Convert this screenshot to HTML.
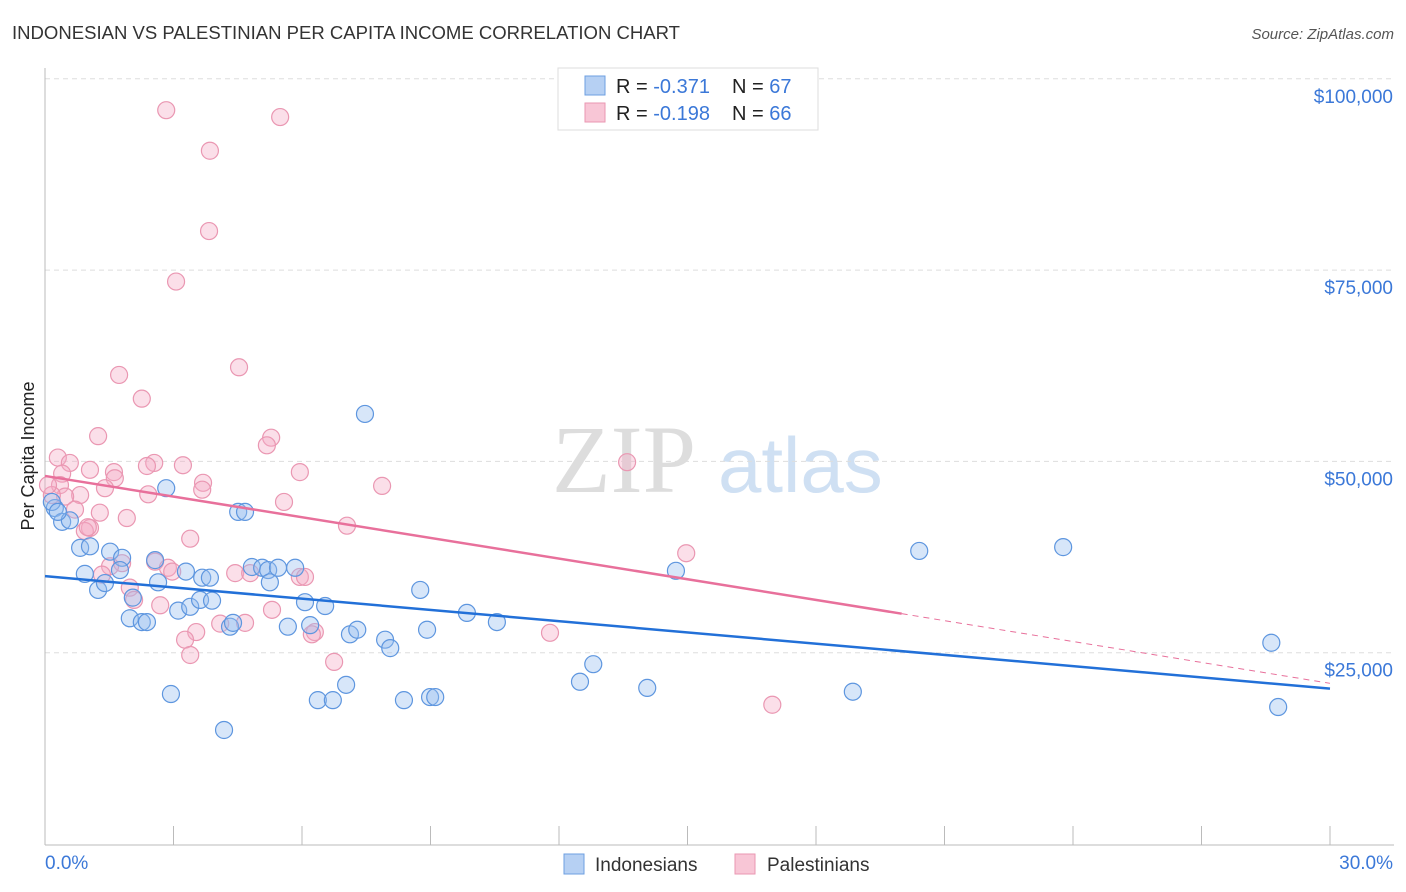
<!DOCTYPE html>
<html><head><meta charset="utf-8"><style>
body{margin:0;background:#fff;font-family:"Liberation Sans",sans-serif}
svg{display:block}
</style></head><body>
<svg id="chart" width="1406" height="892" viewBox="0 0 1406 892">
<text x="12" y="39" font-size="18" fill="#333" textLength="668" lengthAdjust="spacingAndGlyphs">INDONESIAN VS PALESTINIAN PER CAPITA INCOME CORRELATION CHART</text>
<text x="1394" y="39" font-size="15" fill="#555" font-style="italic" text-anchor="end">Source: ZipAtlas.com</text>
<g>
<text x="552" y="492" font-size="96" font-family="Liberation Serif,serif" fill="#ddd">ZIP</text>
<text x="718" y="492" font-size="78" fill="#cfe0f3">atlas</text>
</g>
<g id="grid"></g>
<g id="axes"></g>
<text transform="translate(34,456) rotate(-90)" font-size="18" fill="#222" text-anchor="middle">Per Capita Income</text>
<g id="marks"></g>
<g>
<rect x="558" y="68" width="260" height="62" fill="#fff" stroke="#ddd"/>
<rect x="585" y="76" width="20" height="19" fill="#b6d0f3" stroke="#6d9fe2"/>
<rect x="585" y="103" width="20" height="19" fill="#f8c6d6" stroke="#ea97b2"/>
<text x="616" y="93" font-size="20" fill="#222">R = <tspan fill="#3b78d8">-0.371</tspan></text>
<text x="732" y="93" font-size="20" fill="#222">N = <tspan fill="#3b78d8">67</tspan></text>
<text x="616" y="120" font-size="20" fill="#222">R = <tspan fill="#3b78d8">-0.198</tspan></text>
<text x="732" y="120" font-size="20" fill="#222">N = <tspan fill="#3b78d8">66</tspan></text>
</g>
<g>
<rect x="564" y="854" width="20" height="20" fill="#b6d0f3" stroke="#6d9fe2"/>
<text x="595" y="871" font-size="19" fill="#333">Indonesians</text>
<rect x="735" y="854" width="20" height="20" fill="#f8c6d6" stroke="#ea97b2"/>
<text x="767" y="871" font-size="19" fill="#333">Palestinians</text>
</g>
</svg>
<script>
const blueX=[0.23,0.40,0.58,0.82,1.05,0.93,1.24,1.40,1.52,1.80,1.75,1.98,2.05,2.26,2.38,2.57,2.64,2.83,2.94,3.11,3.29,3.39,3.62,3.67,3.85,3.90,4.18,4.32,4.39,4.51,4.67,4.83,5.07,5.21,5.25,5.44,5.67,5.84,6.07,6.19,6.54,6.37,6.72,7.03,7.12,7.29,7.47,7.94,8.06,8.38,8.76,8.92,8.99,9.11,9.85,10.55,12.49,12.80,14.06,14.73,18.86,20.41,23.77,28.63,28.79,0.16,0.30];
const blueY=[43.9,42.1,42.3,38.7,38.9,35.3,33.2,34.1,38.2,37.4,35.8,29.5,32.2,29.0,29.0,37.1,34.2,46.5,19.6,30.5,35.6,31.0,31.9,34.8,34.8,31.8,14.9,28.4,28.9,43.4,43.4,36.2,36.1,35.8,34.2,36.1,28.4,36.1,31.6,28.6,31.1,18.8,18.8,20.8,27.4,28.0,56.2,26.7,25.6,18.8,33.2,28.0,19.2,19.2,30.2,29.0,21.2,23.5,20.4,35.7,19.9,38.3,38.8,26.3,17.9,44.7,43.4];
const pinkX=[2.83,5.49,3.85,3.83,3.06,4.53,1.73,2.26,1.24,5.28,5.18,0.30,0.58,2.55,2.38,3.22,1.05,1.61,5.95,0.40,1.63,3.69,0.35,7.87,3.67,2.41,0.82,0.47,1.40,13.59,5.58,0.16,1.05,0.93,1.28,1.91,7.05,3.39,14.97,1.80,1.52,2.57,2.87,2.97,4.44,4.79,5.95,6.07,1.98,2.08,2.69,5.30,4.09,4.67,3.53,3.27,6.30,6.23,3.39,6.75,11.79,16.98,0.07,0.70,1.00,1.33];
const pinkY=[95.9,95.0,90.6,80.1,73.5,62.3,61.3,58.2,53.3,53.1,52.1,50.5,49.8,49.8,49.4,49.5,48.9,48.6,48.6,48.4,47.8,47.2,46.9,46.8,46.3,45.7,45.6,45.4,46.5,49.9,44.7,45.6,41.3,40.9,43.3,42.6,41.6,39.9,38.0,36.7,36.3,36.9,36.1,35.6,35.4,35.4,34.9,34.9,33.5,31.9,31.2,30.6,28.8,28.9,27.7,26.7,27.7,27.4,24.7,23.8,27.6,18.2,46.9,43.7,41.4,35.2];
const blueTrendX=[0,30];const blueTrendY=[35.0,20.3];
const pinkTrendX=[0,20.0,30];const pinkTrendY=[48.1,30.1,21.0];
const yTicks=[25,50,75,100];const yTickLabels=["$25,000","$50,000","$75,000","$100,000"];
const xTickVals=[0,3,6,9,12,15,18,21,24,27,30];
const NS="http://www.w3.org/2000/svg";
const sx=v=>45+v/30*1285;
const sy=v=>844-v*1000/25000*191.3;
function mk(tag,attrs,parent){const e=document.createElementNS(NS,tag);for(const k in attrs)e.setAttribute(k,attrs[k]);parent.appendChild(e);return e;}
const grid=document.getElementById('grid'),axes=document.getElementById('axes'),marks=document.getElementById('marks');
yTicks.forEach((t,i)=>{
 const l=mk('line',{x1:45,x2:1394,y1:sy(t),y2:sy(t),stroke:'#ddd','stroke-dasharray':'5,4'},grid);
 
 
 const tx=mk('text',{x:1393,y:sy(t)+24,'font-size':19,fill:'#3b78d8','text-anchor':'end'},axes);
 tx.textContent=yTickLabels[i];
 
 
});
const la=mk('line',{x1:45,x2:45,y1:68,y2:845,stroke:'#bbb'},axes);


const ba=mk('line',{x1:45,x2:1394,y1:845,y2:845,stroke:'#bbb'},axes);


xTickVals.forEach(v=>{const t=mk('line',{x1:sx(v),x2:sx(v),y1:826,y2:845,stroke:'#bbb'},axes);
 
 });
const x0=mk('text',{x:45,y:869,'font-size':19,fill:'#3b78d8'},axes);x0.textContent='0.0%';


const x1=mk('text',{x:1393,y:869,'font-size':19,fill:'#3b78d8','text-anchor':'end'},axes);x1.textContent='30.0%';


pinkX.forEach((x,i)=>{const c=mk('circle',{cx:sx(x),cy:sy(pinkY[i]),r:8.5,fill:'rgba(244,170,196,0.38)',stroke:'#ea97b2','stroke-width':1.2},marks);
 
 });
blueX.forEach((x,i)=>{const c=mk('circle',{cx:sx(x),cy:sy(blueY[i]),r:8.5,fill:'rgba(150,190,240,0.38)',stroke:'#5e96df','stroke-width':1.2},marks);
 
 });
const bl=mk('line',{x1:sx(blueTrendX[0]),y1:sy(blueTrendY[0]),x2:sx(blueTrendX[1]),y2:sy(blueTrendY[1]),stroke:'#2270d8','stroke-width':2.5},marks);


const pl=mk('line',{x1:sx(pinkTrendX[0]),y1:sy(pinkTrendY[0]),x2:sx(pinkTrendX[1]),y2:sy(pinkTrendY[1]),stroke:'#e8709b','stroke-width':2.5},marks);


const pd=mk('line',{x1:sx(pinkTrendX[1]),y1:sy(pinkTrendY[1]),x2:sx(pinkTrendX[2]),y2:sy(pinkTrendY[2]),stroke:'#e8709b','stroke-width':1,'stroke-dasharray':'6,5'},marks);


</script>
</body></html>
